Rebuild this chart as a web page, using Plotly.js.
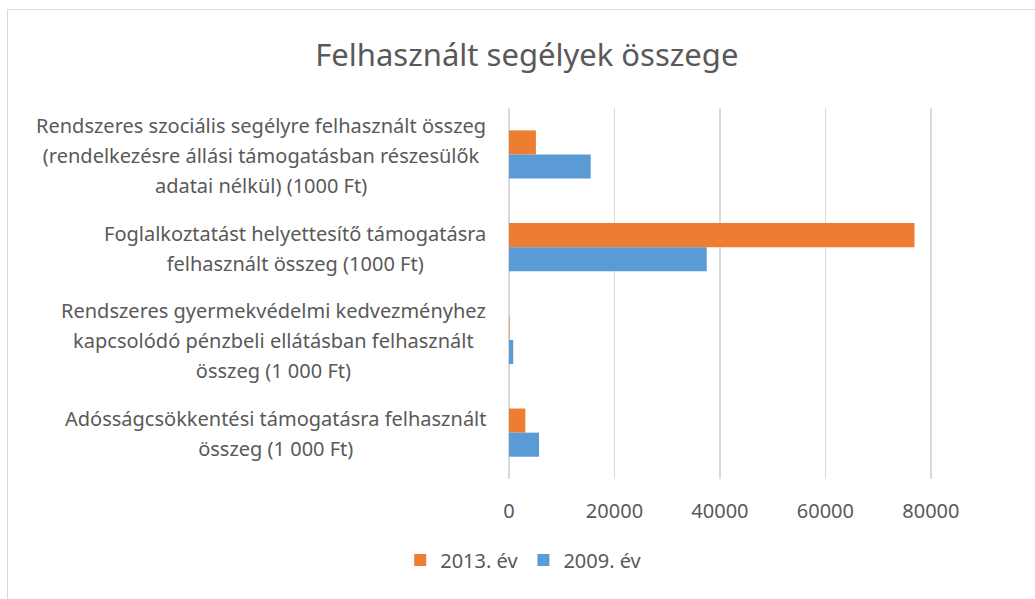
<!DOCTYPE html>
<html>
<head>
<meta charset="utf-8">
<script src="https://cdn.plot.ly/plotly-3.0.1.min.js"></script>
<style>
  html, body { margin: 0; padding: 0; background: #fff; }
  #wrap { position: relative; width: 1035px; height: 599px; overflow: hidden; }
  #chart { width: 1035px; height: 599px; }
  #frame { position: absolute; left: 7px; top: 9px; width: 1100px; height: 700px;
           border: 1px solid #D9D9D9; pointer-events: none; box-sizing: border-box; }
</style>
</head>
<body>
<div id="wrap">
  <div id="chart"></div>
  <div id="frame"></div>
</div>
<script>
const categories = [
  "Rendszeres szociális segélyre felhasznált összeg<br>(rendelkezésre állási támogatásban részesülők<br>adatai nélkül) (1000 Ft)",
  "Foglalkoztatást helyettesítő támogatásra<br>felhasznált összeg (1000 Ft)",
  "Rendszeres gyermekvédelmi kedvezményhez<br>kapcsolódó pénzbeli ellátásban felhasznált<br>összeg (1 000 Ft)",
  "Adósságcsökkentési támogatásra felhasznált<br>összeg (1 000 Ft)"
];
const catKeys = ["c1", "c2", "c3", "c4"];
const values2013 = [5100, 76900, 100, 3100];
const values2009 = [15500, 37500, 800, 5700];
const seriesNames = ["2013. év", "2009. év"];
const tickValues = [0, 20000, 40000, 60000, 80000];

const textColor = "#595959";
const fontFam = "'Noto Sans', 'Open Sans', sans-serif";

const traces = [
  { type: "bar", orientation: "h", name: seriesNames[0], y: catKeys, x: values2013,
    marker: { color: "#ED7D31" }, hoverinfo: "x" },
  { type: "bar", orientation: "h", name: seriesNames[1], y: catKeys, x: values2009,
    marker: { color: "#5B9BD5" }, hoverinfo: "x" }
];

// Each line wrapped in a span so glyph size (20px) is smaller than the
// annotation base size (23px) that sets the 30px line pitch.
const wrapLines = (t) => t.split("<br>").map(s => '<span style="font-size:20px">' + s + '</span>').join("<br>");

const annotations = catKeys.map((k, i) => ({
  xref: "paper", yref: "y", x: 0, y: k, xanchor: "right", yanchor: "middle",
  xshift: -21, yshift: -1, text: wrapLines(categories[i]), showarrow: false, align: "center",
  font: { family: fontFam, size: 23, color: textColor }
}));

const layout = {
  width: 1035, height: 599,
  margin: { l: 509, r: 101, t: 108, b: 120 },
  paper_bgcolor: "#fff", plot_bgcolor: "#fff",
  title: { text: "Felhasznált segélyek összege", xref: "container", yref: "container",
           x: 0.509, y: 0.908, xanchor: "center", yanchor: "middle",
           font: { family: fontFam, size: 31, color: textColor } },
  barmode: "group", bargap: 0.48, bargroupgap: 0,
  xaxis: { range: [0, 80600], tickvals: tickValues, ticktext: tickValues.map(String),
           showgrid: true, gridcolor: "#D9D9D9", gridwidth: 1.5,
           zeroline: true, zerolinecolor: "#D9D9D9", zerolinewidth: 1.5,
           showline: false, ticks: "", ticklabelstandoff: 18,
           tickfont: { family: fontFam, size: 20, color: textColor }, fixedrange: true },
  yaxis: { type: "category", autorange: "reversed", showticklabels: false,
           showgrid: false, zeroline: false, showline: false, ticks: "", fixedrange: true },
  showlegend: true,
  legend: { orientation: "h", x: -0.256, xanchor: "left", y: -0.218, yanchor: "middle",
            font: { family: fontFam, size: 20, color: textColor },
            itemwidth: 30, traceorder: "normal" },
  annotations: annotations
};

Plotly.newPlot("chart", traces, layout, { displayModeBar: false, staticPlot: true });
</script>
</body>
</html>
